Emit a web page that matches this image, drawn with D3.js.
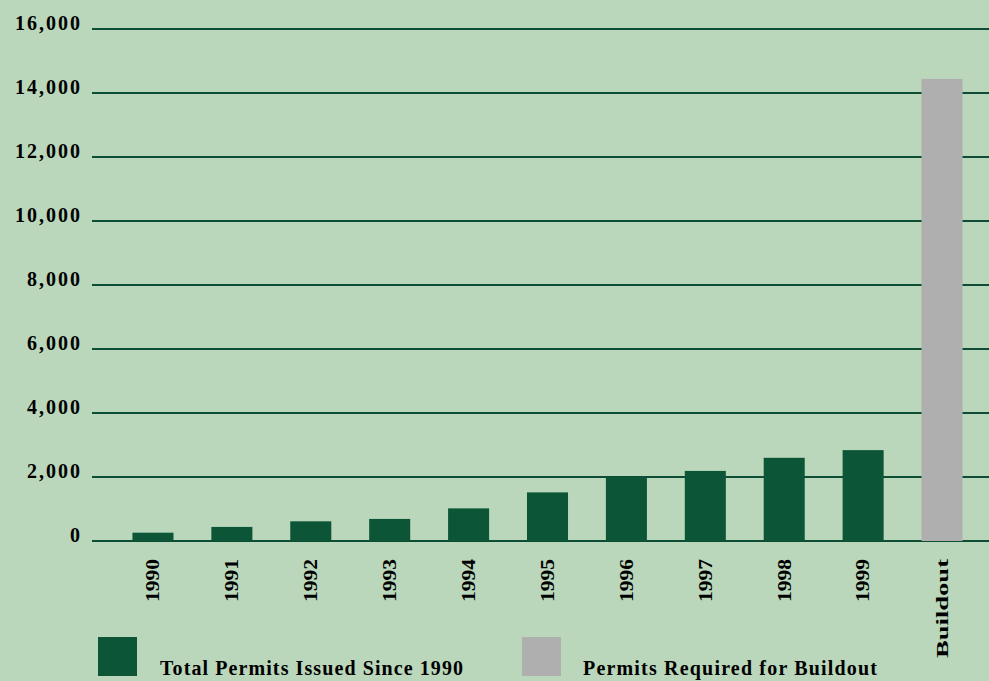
<!DOCTYPE html>
<meta charset="utf-8">
<style>
  body { margin: 0; }
  svg { display: block; }
</style>
<body>
<script src="https://cdn.jsdelivr.net/npm/d3@7"></script>
<script>

    var width = 989,
        height = 681;

    // data
    var categories = ["1990", "1991", "1992", "1993", "1994", "1995", "1996", "1997", "1998", "1999", "Buildout"];
    var permits = [260, 440, 615, 690, 1020, 1520, 2000, 2190, 2600, 2840, 14440];
    var yTicks = [0, 2000, 4000, 6000, 8000, 10000, 12000, 14000, 16000];
    var legendLabels = ["Total Permits Issued Since 1990", "Permits Required for Buildout"];

    var green = "#0c5637",
        grey = "#afafaf",
        bg = "#bad7bb";

    var svg = d3.select("body").append("svg")
            .attr("width", width)
            .attr("height", height);

    svg.append("rect")
        .attr("width", width)
        .attr("height", height)
        .attr("fill", bg);

    var x = d3.scaleBand()
            .domain(categories)
            .range([93, 1002])
            .paddingInner(0.48)
            .paddingOuter(0.5);

    var y = d3.scaleLinear()
            .domain([0, 16000])
            .range([541, 29]);

    // gridlines
    svg.append("g").selectAll("line")
        .data(yTicks)
        .enter().append("line")
        .attr("x1", 92)
        .attr("x2", width)
        .attr("y1", function(d) { return y(d); })
        .attr("y2", function(d) { return y(d); })
        .attr("stroke", "#0d4d33")
        .attr("stroke-width", 2);

    // tick labels (letter-spacing adds a trailing gap, hence 82)
    svg.append("g").selectAll("text")
        .data(yTicks)
        .enter().append("text")
        .attr("x", 82)
        .attr("y", function(d) { return y(d) + 1; })
        .attr("text-anchor", "end")
        .attr("font-family", "Liberation Serif")
        .attr("font-weight", "bold")
        .attr("font-size", 20)
        .attr("letter-spacing", 2)
        .text(function(d) { return d3.format(",")(d); });

    // bars
    svg.append("g").selectAll("rect")
        .data(categories)
        .enter().append("rect")
        .attr("x", function(d) { return x(d); })
        .attr("width", x.bandwidth())
        .attr("y", function(d, i) { return y(permits[i]); })
        .attr("height", function(d, i) { return y(0) - y(permits[i]); })
        .attr("fill", function(d) { return d == "Buildout" ? grey : green; });

    // rotated category labels
    svg.append("g").selectAll("text")
        .data(categories)
        .enter().append("text")
        .attr("transform", function(d) {
            return "translate(" + (x(d) + x.bandwidth() / 2) + ",559) rotate(-90)";
        })
        .attr("dy", "0.35em")
        .attr("text-anchor", "end")
        .attr("font-family", "Liberation Serif")
        .attr("font-weight", "bold")
        .attr("font-size", function(d) { return d == "Buildout" ? 16 : 18; })
        .attr("lengthAdjust", "spacingAndGlyphs")
        .attr("textLength", function(d) { return d == "Buildout" ? 99 : 43; })
        .text(function(d) { return d; });

    // legend
    var legend = svg.append("g").selectAll("g")
        .data(legendLabels)
        .enter().append("g")
        .attr("transform", function(d, i) { return "translate(" + (i ? 522 : 98) + ",637)"; });

    legend.append("rect")
        .attr("width", 39)
        .attr("height", 39)
        .attr("fill", function(d, i) { return i ? grey : green; });

    legend.append("text")
        .attr("x", function(d, i) { return i ? 61 : 62; })
        .attr("y", 38)
        .attr("font-family", "Liberation Serif")
        .attr("font-weight", "bold")
        .attr("font-size", 20)
        .attr("textLength", function(d, i) { return i ? 294 : 303; })
        .text(function(d) { return d; });

</script>
